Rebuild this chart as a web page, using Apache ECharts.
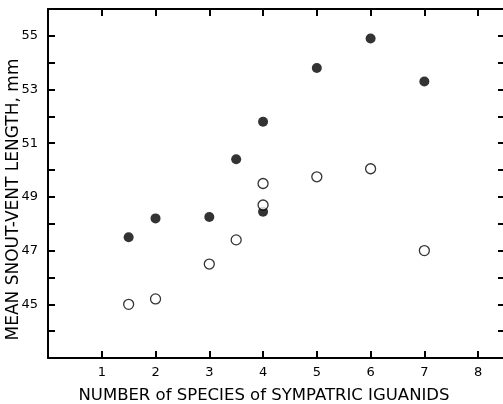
<!DOCTYPE html>
<html>
<head>
<meta charset="utf-8">
<script src="https://cdn.jsdelivr.net/npm/echarts@6/dist/echarts.min.js"></script>
<style>
  html, body { margin: 0; padding: 0; background: #fff; }
  #chart { width: 503px; height: 404px; }
</style>
</head>
<body>
<div id="chart"></div>
<script>
// filled circles
const filledX = [1.5, 2, 3, 3.5, 4, 4, 5, 6, 7]
const filledY = [47.5, 48.2, 48.25, 50.4, 51.8, 48.45, 53.8, 54.9, 53.3]
// open circles
const openX = [1.5, 2, 3, 3.5, 4, 4, 5, 6, 7]
const openY = [45.0, 45.2, 46.5, 47.4, 49.5, 48.7, 49.75, 50.05, 47.0]

const xLabels = [1, 2, 3, 4, 5, 6, 7, 8]
const yLabels = [45, 47, 49, 51, 53, 55]

const ink = '#000'
const font = 'DejaVu Sans'

const pairs = (xs, ys) => xs.map((x, i) => [x, ys[i]])

// frame axes: line + inward ticks only
function xAxisAt(position, gridIndex) {
  return {
    gridIndex: gridIndex,
    type: 'value', min: 0, max: 8.5, interval: 1, position: position,
    axisLine: { show: true, onZero: false, lineStyle: { color: ink, width: 2 } },
    axisTick: { show: true, inside: true, length: 7, lineStyle: { color: ink, width: 2 } },
    splitLine: { show: false },
    axisLabel: { show: false }
  }
}
function yAxisAt(position, gridIndex) {
  return {
    gridIndex: gridIndex,
    type: 'value', min: 43, max: 56, interval: 1, position: position,
    axisLine: { show: true, onZero: false, lineStyle: { color: ink, width: 2 } },
    axisTick: { show: true, inside: true, length: 7, lineStyle: { color: ink, width: 2 } },
    splitLine: { show: false },
    axisLabel: { show: false }
  }
}

// label axes: text only
const xText = {
  gridIndex: 0,
  type: 'value', min: 0, max: 8.5, interval: 1, position: 'bottom',
  axisLine: { show: false, onZero: false },
  axisTick: { show: false },
  splitLine: { show: false },
  name: 'NUMBER of SPECIES of SYMPATRIC IGUANIDS',
  nameLocation: 'middle',
  nameGap: 29,
  nameMoveOverlap: false,
  nameTextStyle: { color: ink, fontFamily: font, fontSize: 16.5, padding: [0, 25, 0, 0] },
  axisLabel: {
    show: true, color: ink, fontFamily: font, fontSize: 13, margin: 8,
    formatter: v => xLabels.includes(v) ? String(v) : ''
  }
}
const yText = {
  gridIndex: 0,
  type: 'value', min: 43, max: 56, interval: 1, position: 'left',
  axisLine: { show: false, onZero: false },
  axisTick: { show: false },
  splitLine: { show: false },
  name: 'MEAN SNOUT-VENT LENGTH, mm',
  nameLocation: 'middle',
  nameGap: 26,
  nameMoveOverlap: false,
  nameTextStyle: { color: ink, fontFamily: font, fontSize: 17, padding: [0, 32, 0, 0] },
  axisLabel: {
    show: true, color: ink, fontFamily: font, fontSize: 13, margin: 10,
    formatter: v => yLabels.includes(v) ? String(v) : ''
  }
}

// hidden x axis for the second grid, which only carries the left frame edge
const xHidden = {
  gridIndex: 1, type: 'value', min: 0, max: 8.5, show: false,
  splitLine: { show: false }
}

const myChart = echarts.init(document.getElementById('chart'))
const option = {
  animation: false,
  backgroundColor: '#fff',
  grid: [
    { left: 48, top: 9, width: 457, height: 349, outerBoundsMode: 'none', containLabel: false },
    { left: 48, top: 9, width: 400, height: 349, outerBoundsMode: 'none', containLabel: false }
  ],
  xAxis: [xAxisAt('bottom', 0), xAxisAt('top', 0), xText, xHidden],
  yAxis: [yAxisAt('right', 0), yText, yAxisAt('left', 1)],
  series: [
    {
      name: 'filled',
      type: 'scatter',
      xAxisIndex: 0,
      yAxisIndex: 0,
      symbol: 'circle',
      symbolSize: 10,
      itemStyle: { color: ink },
      data: pairs(filledX, filledY)
    },
    {
      name: 'open',
      type: 'scatter',
      xAxisIndex: 0,
      yAxisIndex: 0,
      symbol: 'circle',
      symbolSize: 10,
      itemStyle: { color: '#fff', borderColor: ink, borderWidth: 1.3 },
      data: pairs(openX, openY)
    }
  ]
}
myChart.setOption(option)
</script>
</body>
</html>
